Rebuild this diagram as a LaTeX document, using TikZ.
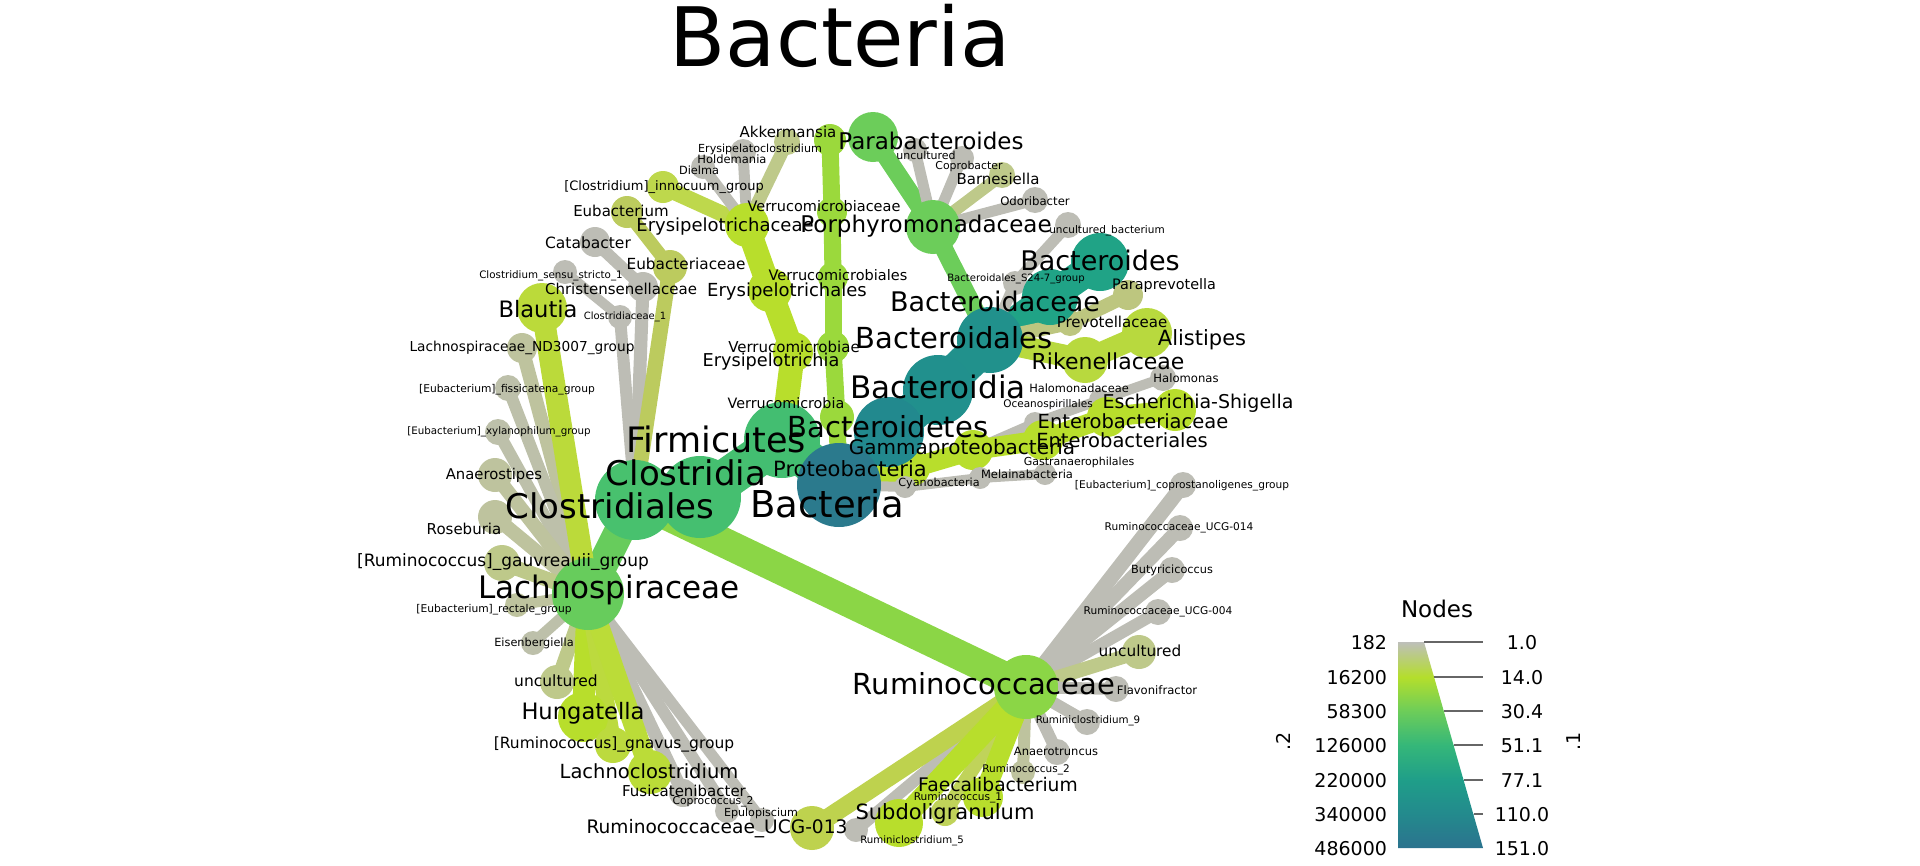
\documentclass[tikz,border=0pt]{standalone}
\usepackage{fontspec}
\setmainfont{DejaVu Sans}
\pgfdeclarelayer{edges}
\pgfsetlayers{edges,main}
\definecolor{cR}{HTML}{2B7A8D}
\definecolor{cBt}{HTML}{22898E}
\definecolor{cBi}{HTML}{21908D}
\definecolor{cBs}{HTML}{21918C}
\definecolor{cBc}{HTML}{20A386}
\definecolor{cF}{HTML}{43BE71}
\definecolor{cCl}{HTML}{45BF70}
\definecolor{cCo}{HTML}{48C16E}
\definecolor{cLa}{HTML}{67CC5C}
\definecolor{cRu}{HTML}{8BD646}
\definecolor{cPo}{HTML}{6CCD5A}
\definecolor{cV}{HTML}{9BD93C}
\definecolor{cY}{HTML}{B8DE2C}
\definecolor{cYa}{HTML}{BBDA3A}
\definecolor{cGr}{HTML}{BDBDB5}
\definecolor{cOa}{HTML}{BEC98A}
\definecolor{cOb}{HTML}{BEC39E}
\definecolor{cOc}{HTML}{BDC0AA}
\definecolor{cEu}{HTML}{BCCB5E}
\definecolor{cInn}{HTML}{BED84C}
\definecolor{cUt}{HTML}{BED24E}
\definecolor{cRa}{HTML}{C0D35A}
\definecolor{cRi}{HTML}{B8D93E}
\definecolor{cGn}{HTML}{BCDA3E}
\definecolor{cLc}{HTML}{BBDC38}
\definecolor{cPr}{HTML}{BDC67F}
\definecolor{lg0}{HTML}{BEBEBE}
\definecolor{lg1}{HTML}{B4DE2C}
\definecolor{lg2}{HTML}{6DCD59}
\definecolor{lg3}{HTML}{35B779}
\definecolor{lg4}{HTML}{1F9E89}
\definecolor{lg5}{HTML}{238A8D}
\definecolor{lg6}{HTML}{2C728E}
\begin{document}
\begin{tikzpicture}[x=1pt,y=-1pt,
  nd/.style={circle,inner sep=0pt,outer sep=0pt,draw=none},
  ed/.style={line cap=butt},
  lab/.style={inner sep=0pt,outer sep=0pt,anchor=base,yshift={-0.27*#1pt},font=\fontsize{#1}{#1}\selectfont},
  legl/.style={inner sep=0pt,outer sep=0pt,font=\fontsize{19}{19}\selectfont},
  tck/.style={draw=black!60,line width=1.6pt}]
\useasboundingbox (0,0) rectangle (1920,865);

% ---------------- nodes (leaves first, root last)
\node[nd,fill=cGr,minimum size=30pt] (Ch) at (643,287) {};
\node[nd,fill=cGr,minimum size=30pt] (Cat) at (595,242) {};
\node[nd,fill=cGr,minimum size=24pt] (C1) at (620,317) {};
\node[nd,fill=cGr,minimum size=24pt] (Css) at (565,272) {};
\node[nd,fill=cEu,minimum size=34pt] (Eu) at (670,267) {};
\node[nd,fill=cEu,minimum size=32pt] (Eub) at (627,212) {};
\node[nd,fill=cInn,minimum size=32pt] (Inn) at (663,187) {};
\node[nd,fill=cGr,minimum size=24pt] (Die) at (703,167) {};
\node[nd,fill=cGr,minimum size=26pt] (Hol) at (743,152) {};
\node[nd,fill=cOa,minimum size=26pt] (Eclo) at (787,142) {};
\node[nd,fill=cY,minimum size=44pt] (Erc) at (747,225) {};
\node[nd,fill=cY,minimum size=44pt] (Ers) at (770,290) {};
\node[nd,fill=cY,minimum size=40pt] (Ery) at (793,352) {};
\node[nd,fill=cV,minimum size=32pt] (Akk) at (830,140) {};
\node[nd,fill=cV,minimum size=30pt] (V4) at (832,212) {};
\node[nd,fill=cV,minimum size=30pt] (V3) at (833,277) {};
\node[nd,fill=cV,minimum size=32pt] (V2) at (833,347) {};
\node[nd,fill=cV,minimum size=34pt] (V1) at (837,417) {};
\node[nd,fill=cYa,minimum size=50pt] (Bla) at (542,308) {};
\node[nd,fill=cOb,minimum size=30pt] (ND) at (522,348) {};
\node[nd,fill=cOc,minimum size=26pt] (Fis) at (508,388) {};
\node[nd,fill=cOc,minimum size=26pt] (Xyl) at (498,432) {};
\node[nd,fill=cOb,minimum size=34pt] (Ana) at (495,475) {};
\node[nd,fill=cOb,minimum size=34pt] (Ros) at (495,517) {};
\node[nd,fill=cOa,minimum size=36pt] (Gau) at (502,563) {};
\node[nd,fill=cOb,minimum size=24pt] (Rec) at (517,605) {};
\node[nd,fill=cOc,minimum size=24pt] (Eis) at (533,643) {};
\node[nd,fill=cOa,minimum size=34pt] (Una) at (557,682) {};
\node[nd,fill=cY,minimum size=50pt] (Hun) at (583,717) {};
\node[nd,fill=cGn,minimum size=36pt] (Gna) at (613,745) {};
\node[nd,fill=cLc,minimum size=44pt] (Lcl) at (650,772) {};
\node[nd,fill=cGr,minimum size=28pt] (Fus) at (683,793) {};
\node[nd,fill=cGr,minimum size=24pt] (Cop) at (727,811) {};
\node[nd,fill=cGr,minimum size=24pt] (Epu) at (762,820) {};
\node[nd,fill=cUt,minimum size=44pt] (Ut) at (812,828) {};
\node[nd,fill=cGr,minimum size=26pt] (Cpg) at (1183,485) {};
\node[nd,fill=cGr,minimum size=26pt] (Uf) at (1180,528) {};
\node[nd,fill=cGr,minimum size=26pt] (But) at (1172,570) {};
\node[nd,fill=cGr,minimum size=26pt] (Uz) at (1158,612) {};
\node[nd,fill=cOa,minimum size=34pt] (Unb) at (1139,652) {};
\node[nd,fill=cGr,minimum size=26pt] (Fla) at (1116,689) {};
\node[nd,fill=cGr,minimum size=26pt] (Rn) at (1087,722) {};
\node[nd,fill=cGr,minimum size=26pt] (Ant) at (1057,752) {};
\node[nd,fill=cOb,minimum size=24pt] (Rcb) at (1023,772) {};
\node[nd,fill=cY,minimum size=40pt] (Fae) at (983,797) {};
\node[nd,fill=cRa,minimum size=28pt] (Rca) at (945,812) {};
\node[nd,fill=cY,minimum size=48pt] (Sub) at (899,823) {};
\node[nd,fill=cGr,minimum size=24pt] (Rf) at (856,830) {};
\node[nd,fill=cGr,minimum size=24pt] (Unc) at (915,150) {};
\node[nd,fill=cGr,minimum size=24pt] (Cpb) at (962,158) {};
\node[nd,fill=cOa,minimum size=26pt] (Bar) at (1002,175) {};
\node[nd,fill=cGr,minimum size=26pt] (Odo) at (1035,200) {};
\node[nd,fill=cPo,minimum size=50pt] (Pa) at (873,137) {};
\node[nd,fill=cPo,minimum size=54pt] (Po) at (933,227) {};
\node[nd,fill=cGr,minimum size=26pt] (Ub) at (1068,225) {};
\node[nd,fill=cGr,minimum size=24pt] (S24) at (1015,283) {};
\node[nd,fill=cPr,minimum size=30pt] (Pp) at (1128,295) {};
\node[nd,fill=cPr,minimum size=26pt] (Pr) at (1070,323) {};
\node[nd,fill=cRi,minimum size=50pt] (Al) at (1147,333) {};
\node[nd,fill=cRi,minimum size=46pt] (Ri) at (1085,360) {};
\node[nd,fill=cBc,minimum size=58pt] (Bd) at (1100,262) {};
\node[nd,fill=cBc,minimum size=56pt] (Bc) at (1050,297) {};
\node[nd,fill=cGr,minimum size=26pt] (Hm) at (1163,378) {};
\node[nd,fill=cGr,minimum size=22pt] (Hd) at (1100,400) {};
\node[nd,fill=cGr,minimum size=22pt] (Oc) at (1035,423) {};
\node[nd,fill=cY,minimum size=42pt] (Es) at (1175,410) {};
\node[nd,fill=cY,minimum size=40pt] (Ec) at (1107,417) {};
\node[nd,fill=cY,minimum size=40pt] (Eb) at (1043,440) {};
\node[nd,fill=cY,minimum size=40pt] (Ga) at (973,450) {};
\node[nd,fill=cY,minimum size=36pt] (Pb) at (912,468) {};
\node[nd,fill=cGr,minimum size=22pt] (Gs) at (1045,474) {};
\node[nd,fill=cGr,minimum size=22pt] (Me) at (980,478) {};
\node[nd,fill=cGr,minimum size=22pt] (Cy) at (905,487) {};
\node[nd,fill=cRu,minimum size=64pt] (Ru) at (1026,687) {};
\node[nd,fill=cLa,minimum size=72pt] (La) at (588,594) {};
\node[nd,fill=cBs,minimum size=66pt] (Bs) at (990,340) {};
\node[nd,fill=cBi,minimum size=70pt] (Bi) at (938,390) {};
\node[nd,fill=cBt,minimum size=70pt] (Bt) at (889,432) {};
\node[nd,fill=cCo,minimum size=80pt] (Co) at (635,500) {};
\node[nd,fill=cCl,minimum size=82pt] (Cl) at (700,497) {};
\node[nd,fill=cF,minimum size=76pt] (F) at (782,440) {};
\node[nd,fill=cR,minimum size=84pt] (R) at (839,485) {};

% ---------------- edges (behind nodes)
\begin{pgfonlayer}{edges}
\draw[ed,line width=40pt,cF] (R.center) -- (F.center);
\draw[ed,line width=40pt,cCl] (F.center) -- (Cl.center);
\draw[ed,line width=40pt,cCo] (Cl.center) -- (Co.center);
\draw[ed,line width=30pt,cLa] (Co.center) -- (La.center);
\draw[ed,line width=30pt,cRu] (Co.center) -- (Ru.center);
\draw[ed,line width=13pt,cGr] (Co.center) -- (Ch.center);
\draw[ed,line width=12pt,cGr] (Ch.center) -- (Cat.center);
\draw[ed,line width=12pt,cGr] (Co.center) -- (C1.center);
\draw[ed,line width=10pt,cGr] (C1.center) -- (Css.center);
\draw[ed,line width=15pt,cEu] (Co.center) -- (Eu.center);
\draw[ed,line width=13pt,cEu] (Eu.center) -- (Eub.center);
\draw[ed,line width=24pt,cY] (F.center) -- (Ery.center);
\draw[ed,line width=24pt,cY] (Ery.center) -- (Ers.center);
\draw[ed,line width=24pt,cY] (Ers.center) -- (Erc.center);
\draw[ed,line width=16pt,cInn] (Erc.center) -- (Inn.center);
\draw[ed,line width=11pt,cGr] (Erc.center) -- (Die.center);
\draw[ed,line width=11pt,cGr] (Erc.center) -- (Hol.center);
\draw[ed,line width=13pt,cOa] (Erc.center) -- (Eclo.center);
\draw[ed,line width=17pt,cV] (R.center) -- (V1.center);
\draw[ed,line width=17pt,cV] (V1.center) -- (V2.center);
\draw[ed,line width=17pt,cV] (V2.center) -- (V3.center);
\draw[ed,line width=17pt,cV] (V3.center) -- (V4.center);
\draw[ed,line width=17pt,cV] (V4.center) -- (Akk.center);
\draw[ed,line width=14pt,cOb] (La.center) -- (ND.center);
\draw[ed,line width=12pt,cOc] (La.center) -- (Fis.center);
\draw[ed,line width=12pt,cOc] (La.center) -- (Xyl.center);
\draw[ed,line width=14pt,cOb] (La.center) -- (Ana.center);
\draw[ed,line width=14pt,cOb] (La.center) -- (Ros.center);
\draw[ed,line width=15pt,cOa] (La.center) -- (Gau.center);
\draw[ed,line width=11pt,cOb] (La.center) -- (Rec.center);
\draw[ed,line width=11pt,cOc] (La.center) -- (Eis.center);
\draw[ed,line width=14pt,cOa] (La.center) -- (Una.center);
\draw[ed,line width=13pt,cGr] (La.center) -- (Fus.center);
\draw[ed,line width=12pt,cGr] (La.center) -- (Cop.center);
\draw[ed,line width=11pt,cGr] (La.center) -- (Epu.center);
\draw[ed,line width=22pt,cYa] (La.center) -- (Bla.center);
\draw[ed,line width=22pt,cY] (La.center) -- (Hun.center);
\draw[ed,line width=17pt,cGn] (La.center) -- (Gna.center);
\draw[ed,line width=20pt,cLc] (La.center) -- (Lcl.center);
\draw[ed,line width=15pt,cGr] (Ru.center) -- (Cpg.center);
\draw[ed,line width=14pt,cGr] (Ru.center) -- (Uf.center);
\draw[ed,line width=13pt,cGr] (Ru.center) -- (But.center);
\draw[ed,line width=12pt,cGr] (Ru.center) -- (Uz.center);
\draw[ed,line width=14pt,cOa] (Ru.center) -- (Unb.center);
\draw[ed,line width=12pt,cGr] (Ru.center) -- (Fla.center);
\draw[ed,line width=12pt,cGr] (Ru.center) -- (Rn.center);
\draw[ed,line width=12pt,cGr] (Ru.center) -- (Ant.center);
\draw[ed,line width=12pt,cOb] (Ru.center) -- (Rcb.center);
\draw[ed,line width=12pt,cGr] (Ru.center) -- (Rf.center);
\draw[ed,line width=18pt,cUt] (Ru.center) -- (Ut.center);
\draw[ed,line width=14pt,cRa] (Ru.center) -- (Rca.center);
\draw[ed,line width=20pt,cY] (Ru.center) -- (Fae.center);
\draw[ed,line width=22pt,cY] (Ru.center) -- (Sub.center);
\draw[ed,line width=38pt,cBt] (R.center) -- (Bt.center);
\draw[ed,line width=38pt,cBi] (Bt.center) -- (Bi.center);
\draw[ed,line width=38pt,cBs] (Bi.center) -- (Bs.center);
\draw[ed,line width=30pt,cBc] (Bs.center) -- (Bc.center);
\draw[ed,line width=30pt,cBc] (Bc.center) -- (Bd.center);
\draw[ed,line width=18pt,cPo] (Bs.center) -- (Po.center);
\draw[ed,line width=18pt,cPo] (Po.center) -- (Pa.center);
\draw[ed,line width=11pt,cGr] (Po.center) -- (Unc.center);
\draw[ed,line width=11pt,cGr] (Po.center) -- (Cpb.center);
\draw[ed,line width=12pt,cOa] (Po.center) -- (Bar.center);
\draw[ed,line width=11pt,cGr] (Po.center) -- (Odo.center);
\draw[ed,line width=11pt,cGr] (Bs.center) -- (S24.center);
\draw[ed,line width=11pt,cGr] (S24.center) -- (Ub.center);
\draw[ed,line width=14pt,cPr] (Bs.center) -- (Pr.center);
\draw[ed,line width=14pt,cPr] (Pr.center) -- (Pp.center);
\draw[ed,line width=22pt,cRi] (Bs.center) -- (Ri.center);
\draw[ed,line width=22pt,cRi] (Ri.center) -- (Al.center);
\draw[ed,line width=10pt,cGr] (Ga.center) -- (Oc.center);
\draw[ed,line width=10pt,cGr] (Oc.center) -- (Hd.center);
\draw[ed,line width=10pt,cGr] (Hd.center) -- (Hm.center);
\draw[ed,line width=20pt,cY] (R.center) -- (Pb.center);
\draw[ed,line width=20pt,cY] (Pb.center) -- (Ga.center);
\draw[ed,line width=20pt,cY] (Ga.center) -- (Eb.center);
\draw[ed,line width=20pt,cY] (Eb.center) -- (Ec.center);
\draw[ed,line width=20pt,cY] (Ec.center) -- (Es.center);
\draw[ed,line width=10pt,cGr] (R.center) -- (Cy.center);
\draw[ed,line width=10pt,cGr] (Cy.center) -- (Me.center);
\draw[ed,line width=10pt,cGr] (Me.center) -- (Gs.center);
\end{pgfonlayer}

% ---------------- labels
\node[lab=82] (title) at (840,44) {Bacteria};
\node[lab=37] (lR) at (827,508) {Bacteria};
\node[lab=35] (lF) at (716,443) {Firmicutes};
\node[lab=34] (lCl) at (686,476) {Clostridia};
\node[lab=34] (lCo) at (610,509) {Clostridiales};
\node[lab=31] (lLa) at (609,590) {Lachnospiraceae};
\node[lab=29] (lRu) at (984,687) {Ruminococcaceae};
\node[lab=31] (lBi) at (938,390) {Bacteroidia};
\node[lab=29] (lBt) at (888,430) {Bacteroidetes};
\node[lab=29] (lBs) at (954,341) {Bacteroidales};
\node[lab=27] (lBc) at (995,304) {Bacteroidaceae};
\node[lab=27] (lBd) at (1100,263) {Bacteroides};
\node[lab=23] (lPo) at (926,226) {Porphyromonadaceae};
\node[lab=23] (lPa) at (931,143) {Parabacteroides};
\node[lab=22] (lRi) at (1108,364) {Rikenellaceae};
\node[lab=21] (lAl) at (1202,340) {Alistipes};
\node[lab=15] (lPr) at (1112,323) {Prevotellaceae};
\node[lab=14.4] (lPp) at (1164,286) {Paraprevotella};
\node[lab=10.1] (lS24) at (1016,279) {Bacteroidales\_S24-7\_group};
\node[lab=10.5] (lUb) at (1107,231) {uncultured\_bacterium};
\node[lab=11.7] (lOdo) at (1035,202) {Odoribacter};
\node[lab=15] (lBar) at (998,180) {Barnesiella};
\node[lab=10.9] (lCpb) at (969,167) {Coprobacter};
\node[lab=11] (lUnc) at (926,157) {uncultured};
\node[lab=21] (lPb) at (850,471) {Proteobacteria};
\node[lab=20] (lGa) at (962,449) {Gammaproteobacteria};
\node[lab=19.5] (lEb) at (1122,442) {Enterobacteriales};
\node[lab=19.5] (lEc) at (1133,423) {Enterobacteriaceae};
\node[lab=19] (lEs) at (1198,403) {Escherichia-Shigella};
\node[lab=10.5] (lOc) at (1048,405) {Oceanospirillales};
\node[lab=11.4] (lHd) at (1079,389) {Halomonadaceae};
\node[lab=11.6] (lHm) at (1186,379) {Halomonas};
\node[lab=11.2] (lCy) at (939,483) {Cyanobacteria};
\node[lab=11.5] (lMe) at (1027,475) {Melainabacteria};
\node[lab=11] (lGs) at (1079,463) {Gastranaerophilales};
\node[lab=14.3] (lV1) at (786,405) {Verrucomicrobia};
\node[lab=15] (lV2) at (794,348) {Verrucomicrobiae};
\node[lab=14.5] (lV3) at (838,277) {Verrucomicrobiales};
\node[lab=14.5] (lV4) at (824,208) {Verrucomicrobiaceae};
\node[lab=15] (lAkk) at (788,133) {Akkermansia};
\node[lab=17.7] (lEry) at (771,362) {Erysipelotrichia};
\node[lab=18] (lErs) at (787,292) {Erysipelotrichales};
\node[lab=18] (lErc) at (725,227) {Erysipelotrichaceae};
\node[lab=11.1] (lEclo) at (760,149) {Erysipelatoclostridium};
\node[lab=11.5] (lHol) at (732,160) {Holdemania};
\node[lab=11.3] (lDie) at (699,171) {Dielma};
\node[lab=13] (lInn) at (664,187) {{[}Clostridium]\_innocuum\_group};
\node[lab=15] (lEub) at (621,212) {Eubacterium};
\node[lab=15.5] (lCat) at (588,244) {Catabacter};
\node[lab=15.3] (lEu) at (686,265) {Eubacteriaceae};
\node[lab=10.3] (lCss) at (551,276) {Clostridium\_sensu\_stricto\_1};
\node[lab=15] (lCh) at (621,290) {Christensenellaceae};
\node[lab=22.6] (lBla) at (538,311) {Blautia};
\node[lab=10] (lC1) at (625,317) {Clostridiaceae\_1};
\node[lab=13.7] (lND) at (522,348) {Lachnospiraceae\_ND3007\_group};
\node[lab=10.7] (lFis) at (507,390) {{[}Eubacterium]\_fissicatena\_group};
\node[lab=10.3] (lXyl) at (499,432) {{[}Eubacterium]\_xylanophilum\_group};
\node[lab=14.8] (lAna) at (494,475) {Anaerostipes};
\node[lab=15] (lRos) at (464,530) {Roseburia};
\node[lab=17] (lGau) at (503,562) {{[}Ruminococcus]\_gauvreauii\_group};
\node[lab=10.7] (lRec) at (494,610) {{[}Eubacterium]\_rectale\_group};
\node[lab=11.3] (lEis) at (534,643) {Eisenbergiella};
\node[lab=15.5] (lUna) at (556,682) {uncultured};
\node[lab=22.6] (lHun) at (583,713) {Hungatella};
\node[lab=15.5] (lGna) at (614,744) {{[}Ruminococcus]\_gnavus\_group};
\node[lab=19.5] (lLcl) at (649,773) {Lachnoclostridium};
\node[lab=15] (lFus) at (684,792) {Fusicatenibacter};
\node[lab=10.8] (lCop) at (713,802) {Coprococcus\_2};
\node[lab=11.1] (lEpu) at (761,813) {Epulopiscium};
\node[lab=18.6] (lUt) at (717,828) {Ruminococcaceae\_UCG-013};
\node[lab=10.2] (lRf) at (912,841) {Ruminiclostridium\_5};
\node[lab=21] (lSub) at (945,814) {Subdoligranulum};
\node[lab=10.6] (lRca) at (958,798) {Ruminococcus\_1};
\node[lab=18.7] (lFae) at (998,786) {Faecalibacterium};
\node[lab=10.5] (lRcb) at (1026,770) {Ruminococcus\_2};
\node[lab=11.5] (lAnt) at (1056,752) {Anaerotruncus};
\node[lab=10.3] (lRn) at (1088,721) {Ruminiclostridium\_9};
\node[lab=11.6] (lFla) at (1157,691) {Flavonifractor};
\node[lab=15.3] (lUnb) at (1140,652) {uncultured};
\node[lab=10.6] (lUz) at (1158,612) {Ruminococcaceae\_UCG-004};
\node[lab=11.3] (lBut) at (1172,570) {Butyricicoccus};
\node[lab=10.6] (lUf) at (1179,528) {Ruminococcaceae\_UCG-014};
\node[lab=10.6] (lCpg) at (1182,486) {{[}Eubacterium]\_coprostanoligenes\_group};

% ---------------- legend
\begin{scope}
\clip (1398,642) -- (1424,642) -- (1483,848) -- (1398,848) -- cycle;
\shade[top color=lg0,bottom color=lg1] (1390,641) rectangle (1490,677);
\shade[top color=lg1,bottom color=lg2] (1390,677) rectangle (1490,711);
\shade[top color=lg2,bottom color=lg3] (1390,711) rectangle (1490,745);
\shade[top color=lg3,bottom color=lg4] (1390,745) rectangle (1490,780);
\shade[top color=lg4,bottom color=lg5] (1390,780) rectangle (1490,814);
\shade[top color=lg5,bottom color=lg6] (1390,814) rectangle (1490,849);
\end{scope}
\draw[tck] (1424,642) -- (1483,642);
\draw[tck] (1434,677) -- (1483,677);
\draw[tck] (1444,711) -- (1483,711);
\draw[tck] (1454,745) -- (1483,745);
\draw[tck] (1464,780) -- (1483,780);
\draw[tck] (1474,814) -- (1483,814);
\node[lab=23] (lNodes) at (1437,611) {Nodes};
\foreach \v/\yy in {182/649,16200/684,58300/718,126000/752,220000/787,340000/821,486000/855}
  \node[legl,anchor=base east] at (1387,\yy) {\v};
\foreach \v/\yy in {1.0/649,14.0/684,30.4/718,51.1/752,77.1/787,110.0/821,151.0/855}
  \node[legl,anchor=base] at (1522,\yy) {\v};
\node[legl,rotate=90] (ax2) at (1283,741) {.2};
\node[legl,rotate=90] (ax1) at (1574,741) {.1};
\end{tikzpicture}
\end{document}
